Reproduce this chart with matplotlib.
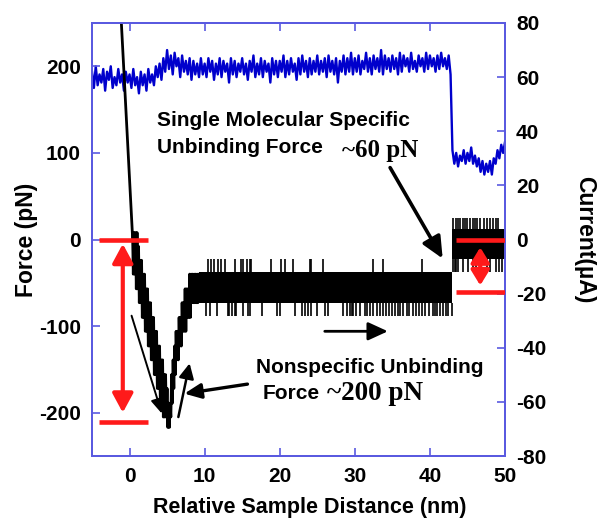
import matplotlib
matplotlib.use("Agg")
import matplotlib.pyplot as plt

plt.rcParams['axes.unicode_minus'] = False

# ---------------- data ----------------
# current trace (uA), x from -5 to 50 nm in 0.25 nm steps
cur_x0, cur_dx = -5.0, 0.25
current = [
    62, 56, 64, 57, 61, 58, 63, 55, 62, 59, 64, 56, 60, 57, 63, 58, 61, 55, 62, 58,
    61, 56, 63, 57, 60, 54, 62, 57, 61, 55, 63, 58, 61, 57, 64, 60, 65, 59, 67, 62,
    70, 63, 68, 61, 69, 64, 67, 60, 68, 62, 66, 61, 67, 59, 66, 61, 65, 60, 67, 61,
    65, 60, 67, 62, 66, 59, 65, 61, 67, 60, 66, 62, 65, 58, 67, 61, 66, 60, 65, 62,
    67, 61, 65, 59, 66, 62, 68, 60, 65, 61, 67, 60, 66, 62, 65, 58, 67, 61, 66, 60,
    66, 62, 68, 60, 66, 61, 67, 62, 65, 59, 67, 61, 68, 62, 66, 60, 67, 61, 66, 62,
    68, 61, 66, 62, 67, 60, 68, 62, 66, 61, 67, 58, 66, 62, 68, 61, 67, 62, 69, 61,
    67, 62, 68, 61, 66, 63, 69, 62, 67, 61, 68, 63, 67, 62, 70, 61, 68, 63, 67, 62,
    68, 63, 67, 61, 69, 62, 68, 64, 67, 62, 69, 63, 66, 62, 68, 64, 67, 62, 69, 63,
    68, 64, 67, 62, 68, 63, 69, 64, 67, 63, 68, 61, 33, 28, 32, 27, 31, 29, 33, 28,
    32, 29, 34, 28, 31, 27, 30, 25, 29, 24, 28, 25, 29, 24, 30, 28, 33, 30, 35, 32,
    36,
]

# force: approach line
app_x = [-1.12, 0.42]
app_f = [255, 0]

# force: nonspecific rupture well (0.4 .. 9.3 nm, 0.1 nm steps)
well_x0, well_dx = 0.4, 0.1
well_f = [
    8, -40, 8, -40, 8, -57, 8, -57, -8, -73,
    -24, -73, -24, -90, -40, -90, -40, -106, -57, -106,
    -57, -123, -73, -123, -73, -139, -90, -139, -90, -156,
    -106, -156, -106, -172, -123, -172, -123, -189, -139, -189,
    -139, -205, -156, -205, -156, -205, -172, -217, -189, -217,
    -189, -205, -156, -189, -139, -172, -123, -156, -106, -139,
    -106, -139, -90, -123, -90, -123, -73, -106, -73, -106,
    -57, -106, -57, -90, -57, -90, -40, -90, -40, -73,
    -40, -73, -40, -73, -40, -73, -40, -73, -40, -57,
]

# force: plateau band 9.3 .. 43 nm
plat_x = [9.3, 43.0]
plat_hi = [-38, -38]
plat_lo = [-73, -73]
plat_up_x = [10.4, 10.9, 11.3, 11.8, 12.2, 12.7, 14.0, 14.9, 15.1, 15.6, 16.0, 16.2,
             18.9, 20.2, 20.7, 21.8, 24.0, 24.2, 25.7, 32.4, 33.8, 38.9]
plat_up_top = -22
plat_dn_x = [10.2, 10.7, 11.6, 13.1, 13.3, 13.6, 14.0, 14.2, 15.1, 15.8, 16.0, 17.6,
             19.6, 20.0, 22.0, 22.9, 23.3, 23.8, 24.2, 24.9, 26.0, 26.4, 28.4, 28.9,
             29.3, 29.6, 29.8, 30.2, 30.7, 31.3, 31.6, 32.0, 32.4, 32.9, 33.3, 33.8,
             34.2, 34.6, 35.0, 35.3, 35.7, 36.0, 36.4, 36.9, 37.2, 37.7, 38.1, 38.5,
             39.0, 39.4, 39.9, 40.4, 40.7, 41.0, 41.4, 41.7, 42.1, 42.4, 42.9]
plat_dn_bot = -88

# force: after specific rupture 43 .. 50 nm
tail_x = [43.0, 50.0]
tail_hi = [12, 12]
tail_lo = [-22, -22]
tail_up_x = [43.1, 43.5, 43.8, 44.0, 44.4, 44.7, 45.0, 45.3, 45.7, 46.0, 46.3, 46.7,
             47.2, 47.6, 48.0, 48.4, 48.8, 49.1]
tail_up_top = 25
tail_dn_x = [43.1, 43.3, 43.5, 43.8, 44.4, 45.1, 45.8, 46.2, 47.6, 48.0, 48.8, 49.2,
             49.6]
tail_dn_bot = -38

# red markers (force, pN)
nonspec_bar_x = [-4.1, 2.4]
nonspec_levels = [0, -211]
nonspec_arrow_x = -0.9
spec_bar_x = [43.5, 50.0]
spec_levels = [0, -61]
spec_arrow_x = 46.7

x_ticks = [0, 10, 20, 30, 40, 50]
f_ticks = [-200, -100, 0, 100, 200]
c_ticks = [-80, -60, -40, -20, 0, 20, 40, 60, 80]

# ---------------- figure ----------------
W, H = 597, 521
fig = plt.figure(figsize=(W / 100, H / 100), dpi=100)
L, R, T, B = 92, 505, 23, 456
ax = fig.add_axes([L / W, 1 - B / H, (R - L) / W, (B - T) / H])
ax2 = ax.twinx()
ax.set_zorder(ax2.get_zorder() + 1)
ax.patch.set_visible(False)

sans = ['Liberation Sans', 'DejaVu Sans']
serif = ['Liberation Serif', 'DejaVu Serif']
spine_col = '#5a5ae0'

# current
cx = [cur_x0 + i * cur_dx for i in range(len(current))]
ax2.plot(cx, current, color='#0000cc', lw=1.7)

# force
ax.plot(app_x, app_f, color='black', lw=2.0)
wx = [well_x0 + i * well_dx for i in range(len(well_f))]
ax.plot(wx, well_f, color='black', lw=2.0)
ax.fill_between(plat_x, plat_lo, plat_hi, color='black', lw=0)
ax.vlines(plat_up_x, plat_hi[0], plat_up_top, color='black', lw=1.2)
ax.vlines(plat_dn_x, plat_dn_bot, plat_lo[0], color='black', lw=1.2)
ax.fill_between(tail_x, tail_lo, tail_hi, color='black', lw=0)
ax.vlines(tail_up_x, tail_hi[0], tail_up_top, color='black', lw=1.2)
ax.vlines(tail_dn_x, tail_dn_bot, tail_lo[0], color='black', lw=1.2)

# red bars and double arrows
red = '#ff1a1a'
for lv in nonspec_levels:
    ax.plot(nonspec_bar_x, [lv, lv], color=red, lw=3.3, solid_capstyle='butt', zorder=5)
for lv in spec_levels:
    ax.plot(spec_bar_x, [lv, lv], color=red, lw=3.3, solid_capstyle='butt', zorder=5)
ax.annotate('', xy=(nonspec_arrow_x, nonspec_levels[1] + 11), xytext=(nonspec_arrow_x, nonspec_levels[0] - 5),
            arrowprops=dict(arrowstyle='<|-|>,head_length=1.15,head_width=0.62', mutation_scale=10,
                            lw=3, color=red, shrinkA=0, shrinkB=0), zorder=5)
ax.annotate('', xy=(spec_arrow_x, spec_levels[1] + 8), xytext=(spec_arrow_x, spec_levels[0] - 9),
            arrowprops=dict(arrowstyle='<|-|>,head_length=0.9,head_width=0.55', mutation_scale=10,
                            lw=3, color=red, shrinkA=0, shrinkB=0), zorder=5)

# black arrows
def arrow(tail, head, lw, hl, hw):
    ax.annotate('', xy=head, xytext=tail,
                arrowprops=dict(arrowstyle='-|>,head_length=%g,head_width=%g' % (hl, hw),
                                mutation_scale=10, lw=lw, color='black', shrinkA=0, shrinkB=0),
                zorder=6)

arrow((34.7, 83), (41.7, -22), 2.6, 1.3, 0.6)
arrow((0.27, -88), (4.3, -201), 1.4, 0.9, 0.4)
arrow((6.5, -205), (8.0, -143), 1.8, 0.9, 0.45)
arrow((15.7, -167), (7.3, -178), 2.4, 1.0, 0.45)
arrow((26.0, -106), (34.4, -106), 2.0, 1.2, 0.55)

# texts
tsize = 15
ax.text(3.7, 137, 'Single Molecular Specific', fontfamily=sans, fontweight='bold',
        fontsize=tsize, ha='left', va='center')
ax.text(3.7, 106, 'Unbinding Force', fontfamily=sans, fontweight='bold',
        fontsize=tsize, ha='left', va='center')
ax.text(28.3, 103, '~60 pN', fontfamily=serif, fontweight='bold',
        fontsize=18, ha='left', va='center')
ax.text(16.9, -148, 'Nonspecific Unbinding', fontfamily=sans, fontweight='bold',
        fontsize=tsize, ha='left', va='center')
ax.text(17.7, -178, 'Force', fontfamily=sans, fontweight='bold',
        fontsize=tsize, ha='left', va='center')
ax.text(26.3, -178, '~200 pN', fontfamily=serif, fontweight='bold',
        fontsize=19.5, ha='left', va='center')

# axes
ax.set_xlim(-5, 50)
ax.set_ylim(-250, 250)
ax2.set_ylim(-80, 80)
ax.set_xticks(x_ticks)
ax.set_yticks(f_ticks)
ax2.set_yticks(c_ticks)
for a in (ax, ax2):
    for s in a.spines.values():
        s.set_color(spine_col)
        s.set_linewidth(1.4)
ax.tick_params(axis='both', direction='in', length=6, width=1.2, color=spine_col,
               labelsize=15, pad=8, top=True, right=False)
ax2.tick_params(axis='y', direction='in', length=6, width=1.2, color=spine_col,
                labelsize=15, pad=8)
for lab in ax.get_xticklabels() + ax.get_yticklabels() + ax2.get_yticklabels():
    lab.set_fontfamily(sans)
    lab.set_fontweight('bold')

ax.set_xlabel('Relative Sample Distance (nm)', fontfamily=sans, fontweight='bold', fontsize=15.5,
              va='center', ha='center')
ax.xaxis.set_label_coords((310 - L) / (R - L), -(508 - B) / (B - T))
ax.set_ylabel('Force (pN)', fontfamily=sans, fontweight='bold', fontsize=16.5,
              va='center', ha='center')
ax.yaxis.set_label_coords(-(L - 27) / (R - L), 0.5)
ax2.set_ylabel('Current(\u00b5A)', fontfamily=sans, fontweight='bold', fontsize=16.5,
               rotation=-90, va='center', ha='center')
ax2.yaxis.set_label_coords((585 - L) / (R - L), 0.5)

fig.savefig('out.png', dpi=100)
